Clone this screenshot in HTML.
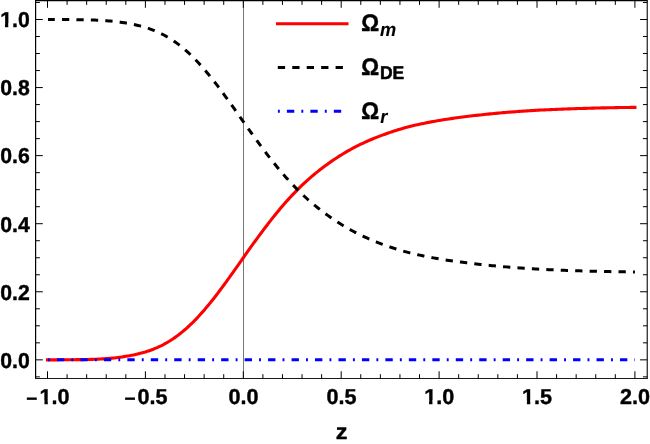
<!DOCTYPE html>
<html><head><meta charset="utf-8"><title>plot</title>
<style>
html,body{margin:0;padding:0;background:#fff;}
body{width:650px;height:444px;overflow:hidden;font-family:"Liberation Sans",sans-serif;}
svg{display:block;will-change:transform;}
text{font-family:"Liberation Sans",sans-serif;font-weight:bold;fill:#000;text-rendering:geometricPrecision;}
</style></head><body>
<svg width="650" height="444" viewBox="0 0 650 444">
<rect x="0" y="0" width="650" height="444" fill="#fff"/>
<line x1="243.5" y1="0.6" x2="243.5" y2="378.5" stroke="#777" stroke-width="1"/>
<g fill="none" stroke-linejoin="round">
<path d="M47.50,359.85 L49.46,359.85 L51.42,359.85 L53.37,359.84 L55.33,359.83 L57.29,359.83 L59.25,359.82 L61.21,359.81 L63.16,359.80 L65.12,359.78 L67.08,359.77 L69.04,359.75 L71.00,359.74 L72.95,359.72 L74.91,359.69 L76.87,359.67 L78.83,359.64 L80.79,359.61 L82.74,359.58 L84.70,359.54 L86.66,359.50 L88.62,359.45 L90.58,359.40 L92.53,359.34 L94.49,359.28 L96.45,359.21 L98.41,359.13 L100.37,359.03 L102.32,358.92 L104.28,358.79 L106.24,358.65 L108.20,358.49 L110.16,358.32 L112.11,358.13 L114.07,357.92 L116.03,357.70 L117.99,357.46 L119.95,357.21 L121.90,356.94 L123.86,356.64 L125.82,356.34 L127.78,356.01 L129.74,355.66 L131.69,355.29 L133.65,354.90 L135.61,354.48 L137.57,354.04 L139.53,353.56 L141.48,353.05 L143.44,352.51 L145.40,351.94 L147.36,351.32 L149.32,350.66 L151.27,349.96 L153.23,349.22 L155.19,348.43 L157.15,347.60 L159.11,346.71 L161.06,345.78 L163.02,344.79 L164.98,343.74 L166.94,342.64 L168.90,341.48 L170.85,340.27 L172.81,338.99 L174.77,337.65 L176.73,336.25 L178.69,334.79 L180.64,333.26 L182.60,331.67 L184.56,330.02 L186.52,328.30 L188.48,326.52 L190.43,324.68 L192.39,322.78 L194.35,320.82 L196.31,318.80 L198.27,316.72 L200.22,314.58 L202.18,312.39 L204.14,310.15 L206.10,307.85 L208.06,305.51 L210.01,303.12 L211.97,300.68 L213.93,298.20 L215.89,295.68 L217.85,293.12 L219.80,290.53 L221.76,287.90 L223.72,285.25 L225.68,282.57 L227.64,279.86 L229.59,277.14 L231.55,274.39 L233.51,271.64 L235.47,268.87 L237.43,266.09 L239.38,263.31 L241.34,260.53 L243.30,257.75 L245.26,254.97 L247.22,252.20 L249.17,249.44 L251.13,246.69 L253.09,243.96 L255.05,241.25 L257.01,238.56 L258.96,235.89 L260.92,233.24 L262.88,230.61 L264.84,228.01 L266.80,225.44 L268.75,222.90 L270.71,220.39 L272.67,217.91 L274.63,215.46 L276.59,213.05 L278.54,210.68 L280.50,208.34 L282.46,206.04 L284.42,203.78 L286.38,201.56 L288.33,199.37 L290.29,197.23 L292.25,195.13 L294.21,193.07 L296.17,191.05 L298.12,189.07 L300.08,187.13 L302.04,185.24 L304.00,183.40 L305.96,181.59 L307.91,179.83 L309.87,178.11 L311.83,176.42 L313.79,174.77 L315.75,173.16 L317.70,171.58 L319.66,170.04 L321.62,168.53 L323.58,167.04 L325.54,165.59 L327.49,164.16 L329.45,162.76 L331.41,161.38 L333.37,160.03 L335.33,158.72 L337.28,157.43 L339.24,156.18 L341.20,154.96 L343.16,153.76 L345.12,152.60 L347.07,151.46 L349.03,150.35 L350.99,149.26 L352.95,148.20 L354.91,147.17 L356.86,146.16 L358.82,145.18 L360.78,144.22 L362.74,143.29 L364.70,142.38 L366.65,141.49 L368.61,140.62 L370.57,139.77 L372.53,138.95 L374.49,138.15 L376.44,137.36 L378.40,136.60 L380.36,135.86 L382.32,135.13 L384.28,134.42 L386.23,133.71 L388.19,133.02 L390.15,132.35 L392.11,131.69 L394.07,131.05 L396.02,130.42 L397.98,129.81 L399.94,129.21 L401.90,128.64 L403.86,128.08 L405.81,127.54 L407.77,127.02 L409.73,126.52 L411.69,126.04 L413.65,125.57 L415.60,125.11 L417.56,124.67 L419.52,124.24 L421.48,123.82 L423.44,123.41 L425.39,123.01 L427.35,122.62 L429.31,122.24 L431.27,121.87 L433.23,121.51 L435.18,121.16 L437.14,120.82 L439.10,120.48 L441.06,120.16 L443.02,119.84 L444.97,119.53 L446.93,119.23 L448.89,118.93 L450.85,118.64 L452.81,118.36 L454.76,118.08 L456.72,117.81 L458.68,117.55 L460.64,117.29 L462.60,117.03 L464.55,116.78 L466.51,116.53 L468.47,116.29 L470.43,116.05 L472.39,115.81 L474.34,115.58 L476.30,115.36 L478.26,115.14 L480.22,114.92 L482.18,114.71 L484.13,114.50 L486.09,114.30 L488.05,114.10 L490.01,113.90 L491.97,113.71 L493.92,113.52 L495.88,113.34 L497.84,113.16 L499.80,112.99 L501.76,112.82 L503.71,112.65 L505.67,112.48 L507.63,112.32 L509.59,112.16 L511.55,112.00 L513.50,111.84 L515.46,111.69 L517.42,111.54 L519.38,111.40 L521.34,111.26 L523.29,111.12 L525.25,110.99 L527.21,110.86 L529.17,110.73 L531.13,110.61 L533.08,110.49 L535.04,110.38 L537.00,110.27 L538.96,110.17 L540.92,110.07 L542.87,109.98 L544.83,109.88 L546.79,109.79 L548.75,109.70 L550.71,109.61 L552.66,109.53 L554.62,109.44 L556.58,109.36 L558.54,109.28 L560.50,109.20 L562.45,109.12 L564.41,109.05 L566.37,108.97 L568.33,108.90 L570.29,108.83 L572.24,108.76 L574.20,108.69 L576.16,108.63 L578.12,108.57 L580.08,108.50 L582.03,108.44 L583.99,108.38 L585.95,108.33 L587.91,108.27 L589.87,108.22 L591.82,108.16 L593.78,108.11 L595.74,108.06 L597.70,108.01 L599.66,107.97 L601.61,107.92 L603.57,107.88 L605.53,107.83 L607.49,107.79 L609.45,107.75 L611.40,107.71 L613.36,107.68 L615.32,107.64 L617.28,107.61 L619.24,107.57 L621.19,107.54 L623.15,107.51 L625.11,107.48 L627.07,107.46 L629.03,107.43 L630.98,107.41 L632.94,107.38 L634.90,107.36" stroke="#ff0000" stroke-width="3.1" stroke-linecap="square"/>
<path d="M48.01,19.50 L49.97,19.50 L51.92,19.51 L53.88,19.51 L55.83,19.52 L57.79,19.52 L59.75,19.53 L61.70,19.54 L63.66,19.56 L65.62,19.57 L67.57,19.58 L69.53,19.60 L71.48,19.62 L73.44,19.64 L75.40,19.66 L77.35,19.69 L79.31,19.71 L81.27,19.75 L83.22,19.78 L85.18,19.82 L87.14,19.86 L89.09,19.91 L91.05,19.96 L93.00,20.02 L94.96,20.09 L96.92,20.16 L98.87,20.25 L100.83,20.35 L102.79,20.46 L104.74,20.59 L106.70,20.74 L108.65,20.90 L110.61,21.08 L112.57,21.27 L114.52,21.48 L116.48,21.70 L118.44,21.94 L120.39,22.20 L122.35,22.48 L124.30,22.77 L126.26,23.09 L128.22,23.42 L130.17,23.77 L132.13,24.15 L134.09,24.54 L136.04,24.97 L138.00,25.42 L139.96,25.90 L141.91,26.41 L143.87,26.96 L145.82,27.55 L147.78,28.17 L149.74,28.83 L151.69,29.54 L153.65,30.29 L155.61,31.09 L157.56,31.94 L159.52,32.83 L161.47,33.78 L163.43,34.78 L165.39,35.83 L167.34,36.94 L169.30,38.11 L171.26,39.34 L173.21,40.63 L175.17,41.98 L177.13,43.39 L179.08,44.86 L181.04,46.40 L182.99,48.00 L184.95,49.67 L186.91,51.40 L188.86,53.19 L190.82,55.04 L192.78,56.95 L194.73,58.92 L196.69,60.95 L198.64,63.04 L200.60,65.19 L202.56,67.38 L204.51,69.64 L206.47,71.94 L208.43,74.29 L210.38,76.69 L212.34,79.13 L214.29,81.62 L216.25,84.14 L218.21,86.71 L220.16,89.30 L222.12,91.93 L224.08,94.59 L226.03,97.27 L227.99,99.98 L229.95,102.70 L231.90,105.45 L233.86,108.20 L235.81,110.97 L237.77,113.75 L239.73,116.53 L241.68,119.31 L243.64,122.09 L245.60,124.86 L247.55,127.63 L249.51,130.38 L251.46,133.12 L253.42,135.85 L255.38,138.55 L257.33,141.24 L259.29,143.91 L261.25,146.55 L263.20,149.17 L265.16,151.76 L267.12,154.32 L269.07,156.86 L271.03,159.36 L272.98,161.83 L274.94,164.27 L276.90,166.68 L278.85,169.04 L280.81,171.37 L282.77,173.66 L284.72,175.92 L286.68,178.13 L288.63,180.31 L290.59,182.44 L292.55,184.54 L294.50,186.59 L296.46,188.60 L298.42,190.58 L300.37,192.50 L302.33,194.38 L304.28,196.22 L306.24,198.02 L308.20,199.77 L310.15,201.49 L312.11,203.17 L314.07,204.81 L316.02,206.41 L317.98,207.98 L319.94,209.52 L321.89,211.03 L323.85,212.51 L325.80,213.96 L327.76,215.38 L329.72,216.78 L331.67,218.15 L333.63,219.49 L335.59,220.80 L337.54,222.08 L339.50,223.33 L341.45,224.55 L343.41,225.74 L345.37,226.90 L347.32,228.04 L349.28,229.14 L351.24,230.22 L353.19,231.28 L355.15,232.31 L357.10,233.31 L359.06,234.29 L361.02,235.24 L362.97,236.17 L364.93,237.08 L366.89,237.97 L368.84,238.83 L370.80,239.67 L372.76,240.49 L374.71,241.29 L376.67,242.07 L378.62,242.83 L380.58,243.57 L382.54,244.30 L384.49,245.01 L386.45,245.71 L388.41,246.40 L390.36,247.07 L392.32,247.73 L394.27,248.37 L396.23,249.00 L398.19,249.61 L400.14,250.20 L402.10,250.77 L404.06,251.33 L406.01,251.87 L407.97,252.38 L409.93,252.88 L411.88,253.36 L413.84,253.83 L415.79,254.28 L417.75,254.72 L419.71,255.15 L421.66,255.57 L423.62,255.98 L425.58,256.38 L427.53,256.77 L429.49,257.14 L431.44,257.51 L433.40,257.87 L435.36,258.22 L437.31,258.56 L439.27,258.89 L441.23,259.22 L443.18,259.53 L445.14,259.84 L447.09,260.15 L449.05,260.44 L451.01,260.73 L452.96,261.01 L454.92,261.29 L456.88,261.56 L458.83,261.82 L460.79,262.08 L462.75,262.34 L464.70,262.59 L466.66,262.84 L468.61,263.08 L470.57,263.32 L472.53,263.55 L474.48,263.78 L476.44,264.01 L478.40,264.23 L480.35,264.44 L482.31,264.66 L484.26,264.86 L486.22,265.07 L488.18,265.27 L490.13,265.46 L492.09,265.65 L494.05,265.84 L496.00,266.02 L497.96,266.20 L499.92,266.37 L501.87,266.54 L503.83,266.71 L505.78,266.88 L507.74,267.04 L509.70,267.20 L511.65,267.36 L513.61,267.51 L515.57,267.67 L517.52,267.81 L519.48,267.96 L521.43,268.10 L523.39,268.24 L525.35,268.37 L527.30,268.50 L529.26,268.63 L531.22,268.75 L533.17,268.86 L535.13,268.97 L537.08,269.08 L539.04,269.18 L541.00,269.28 L542.95,269.38 L544.91,269.47 L546.87,269.56 L548.82,269.65 L550.78,269.74 L552.74,269.83 L554.69,269.91 L556.65,269.99 L558.60,270.07 L560.56,270.15 L562.52,270.23 L564.47,270.31 L566.43,270.38 L568.39,270.45 L570.34,270.52 L572.30,270.59 L574.25,270.66 L576.21,270.72 L578.17,270.79 L580.12,270.85 L582.08,270.91 L584.04,270.97 L585.99,271.03 L587.95,271.08 L589.91,271.14 L591.86,271.19 L593.82,271.24 L595.77,271.29 L597.73,271.34 L599.69,271.38 L601.64,271.43 L603.60,271.47 L605.56,271.52 L607.51,271.56 L609.47,271.60 L611.42,271.64 L613.38,271.67 L615.34,271.71 L617.29,271.74 L619.25,271.78 L621.21,271.81 L623.16,271.84 L625.12,271.87 L627.07,271.89 L629.03,271.92 L630.99,271.94 L632.94,271.97 L634.90,271.99" stroke="#000" stroke-width="3" stroke-dasharray="7.3 7.15" stroke-dashoffset="0.5"/>
<path d="M47.95,359.85 L634.95,359.85" stroke="#0000ff" stroke-width="3" stroke-dasharray="1.9 7.1 7.36 7.1"/>
</g>
<g stroke="#000" fill="none" stroke-linecap="square">
<line x1="35.6" y1="0.6" x2="35.6" y2="378.5" stroke-width="1.2"/>
<line x1="35.6" y1="0.6" x2="647.25" y2="0.6" stroke-width="1.2"/>
<line x1="647.25" y1="0.6" x2="647.25" y2="378.5" stroke-width="1.2" stroke="#1a1a1a"/>
<line x1="35.6" y1="378.5" x2="647.25" y2="378.5" stroke-width="1.05" stroke="#1a1a1a"/>
</g>
<g stroke="#000" stroke-width="1">
<line x1="47.50" y1="378.5" x2="47.50" y2="371.30"/>
<line x1="47.50" y1="0.6" x2="47.50" y2="7.80"/>
<line x1="67.08" y1="378.5" x2="67.08" y2="374.20"/>
<line x1="67.08" y1="0.6" x2="67.08" y2="4.90"/>
<line x1="86.66" y1="378.5" x2="86.66" y2="374.20"/>
<line x1="86.66" y1="0.6" x2="86.66" y2="4.90"/>
<line x1="106.24" y1="378.5" x2="106.24" y2="374.20"/>
<line x1="106.24" y1="0.6" x2="106.24" y2="4.90"/>
<line x1="125.82" y1="378.5" x2="125.82" y2="374.20"/>
<line x1="125.82" y1="0.6" x2="125.82" y2="4.90"/>
<line x1="145.40" y1="378.5" x2="145.40" y2="371.30"/>
<line x1="145.40" y1="0.6" x2="145.40" y2="7.80"/>
<line x1="164.98" y1="378.5" x2="164.98" y2="374.20"/>
<line x1="164.98" y1="0.6" x2="164.98" y2="4.90"/>
<line x1="184.56" y1="378.5" x2="184.56" y2="374.20"/>
<line x1="184.56" y1="0.6" x2="184.56" y2="4.90"/>
<line x1="204.14" y1="378.5" x2="204.14" y2="374.20"/>
<line x1="204.14" y1="0.6" x2="204.14" y2="4.90"/>
<line x1="223.72" y1="378.5" x2="223.72" y2="374.20"/>
<line x1="223.72" y1="0.6" x2="223.72" y2="4.90"/>
<line x1="243.30" y1="378.5" x2="243.30" y2="371.30"/>
<line x1="243.30" y1="0.6" x2="243.30" y2="7.80"/>
<line x1="262.88" y1="378.5" x2="262.88" y2="374.20"/>
<line x1="262.88" y1="0.6" x2="262.88" y2="4.90"/>
<line x1="282.46" y1="378.5" x2="282.46" y2="374.20"/>
<line x1="282.46" y1="0.6" x2="282.46" y2="4.90"/>
<line x1="302.04" y1="378.5" x2="302.04" y2="374.20"/>
<line x1="302.04" y1="0.6" x2="302.04" y2="4.90"/>
<line x1="321.62" y1="378.5" x2="321.62" y2="374.20"/>
<line x1="321.62" y1="0.6" x2="321.62" y2="4.90"/>
<line x1="341.20" y1="378.5" x2="341.20" y2="371.30"/>
<line x1="341.20" y1="0.6" x2="341.20" y2="7.80"/>
<line x1="360.78" y1="378.5" x2="360.78" y2="374.20"/>
<line x1="360.78" y1="0.6" x2="360.78" y2="4.90"/>
<line x1="380.36" y1="378.5" x2="380.36" y2="374.20"/>
<line x1="380.36" y1="0.6" x2="380.36" y2="4.90"/>
<line x1="399.94" y1="378.5" x2="399.94" y2="374.20"/>
<line x1="399.94" y1="0.6" x2="399.94" y2="4.90"/>
<line x1="419.52" y1="378.5" x2="419.52" y2="374.20"/>
<line x1="419.52" y1="0.6" x2="419.52" y2="4.90"/>
<line x1="439.10" y1="378.5" x2="439.10" y2="371.30"/>
<line x1="439.10" y1="0.6" x2="439.10" y2="7.80"/>
<line x1="458.68" y1="378.5" x2="458.68" y2="374.20"/>
<line x1="458.68" y1="0.6" x2="458.68" y2="4.90"/>
<line x1="478.26" y1="378.5" x2="478.26" y2="374.20"/>
<line x1="478.26" y1="0.6" x2="478.26" y2="4.90"/>
<line x1="497.84" y1="378.5" x2="497.84" y2="374.20"/>
<line x1="497.84" y1="0.6" x2="497.84" y2="4.90"/>
<line x1="517.42" y1="378.5" x2="517.42" y2="374.20"/>
<line x1="517.42" y1="0.6" x2="517.42" y2="4.90"/>
<line x1="537.00" y1="378.5" x2="537.00" y2="371.30"/>
<line x1="537.00" y1="0.6" x2="537.00" y2="7.80"/>
<line x1="556.58" y1="378.5" x2="556.58" y2="374.20"/>
<line x1="556.58" y1="0.6" x2="556.58" y2="4.90"/>
<line x1="576.16" y1="378.5" x2="576.16" y2="374.20"/>
<line x1="576.16" y1="0.6" x2="576.16" y2="4.90"/>
<line x1="595.74" y1="378.5" x2="595.74" y2="374.20"/>
<line x1="595.74" y1="0.6" x2="595.74" y2="4.90"/>
<line x1="615.32" y1="378.5" x2="615.32" y2="374.20"/>
<line x1="615.32" y1="0.6" x2="615.32" y2="4.90"/>
<line x1="634.90" y1="378.5" x2="634.90" y2="371.30"/>
<line x1="634.90" y1="0.6" x2="634.90" y2="7.80"/>
<line x1="35.6" y1="376.87" x2="39.90" y2="376.87"/>
<line x1="647.25" y1="376.87" x2="642.95" y2="376.87"/>
<line x1="35.6" y1="359.85" x2="42.80" y2="359.85"/>
<line x1="647.25" y1="359.85" x2="640.05" y2="359.85"/>
<line x1="35.6" y1="342.83" x2="39.90" y2="342.83"/>
<line x1="647.25" y1="342.83" x2="642.95" y2="342.83"/>
<line x1="35.6" y1="325.81" x2="39.90" y2="325.81"/>
<line x1="647.25" y1="325.81" x2="642.95" y2="325.81"/>
<line x1="35.6" y1="308.80" x2="39.90" y2="308.80"/>
<line x1="647.25" y1="308.80" x2="642.95" y2="308.80"/>
<line x1="35.6" y1="291.78" x2="42.80" y2="291.78"/>
<line x1="647.25" y1="291.78" x2="640.05" y2="291.78"/>
<line x1="35.6" y1="274.76" x2="39.90" y2="274.76"/>
<line x1="647.25" y1="274.76" x2="642.95" y2="274.76"/>
<line x1="35.6" y1="257.75" x2="39.90" y2="257.75"/>
<line x1="647.25" y1="257.75" x2="642.95" y2="257.75"/>
<line x1="35.6" y1="240.73" x2="39.90" y2="240.73"/>
<line x1="647.25" y1="240.73" x2="642.95" y2="240.73"/>
<line x1="35.6" y1="223.71" x2="42.80" y2="223.71"/>
<line x1="647.25" y1="223.71" x2="640.05" y2="223.71"/>
<line x1="35.6" y1="206.69" x2="39.90" y2="206.69"/>
<line x1="647.25" y1="206.69" x2="642.95" y2="206.69"/>
<line x1="35.6" y1="189.68" x2="39.90" y2="189.68"/>
<line x1="647.25" y1="189.68" x2="642.95" y2="189.68"/>
<line x1="35.6" y1="172.66" x2="39.90" y2="172.66"/>
<line x1="647.25" y1="172.66" x2="642.95" y2="172.66"/>
<line x1="35.6" y1="155.64" x2="42.80" y2="155.64"/>
<line x1="647.25" y1="155.64" x2="640.05" y2="155.64"/>
<line x1="35.6" y1="138.62" x2="39.90" y2="138.62"/>
<line x1="647.25" y1="138.62" x2="642.95" y2="138.62"/>
<line x1="35.6" y1="121.60" x2="39.90" y2="121.60"/>
<line x1="647.25" y1="121.60" x2="642.95" y2="121.60"/>
<line x1="35.6" y1="104.59" x2="39.90" y2="104.59"/>
<line x1="647.25" y1="104.59" x2="642.95" y2="104.59"/>
<line x1="35.6" y1="87.57" x2="42.80" y2="87.57"/>
<line x1="647.25" y1="87.57" x2="640.05" y2="87.57"/>
<line x1="35.6" y1="70.55" x2="39.90" y2="70.55"/>
<line x1="647.25" y1="70.55" x2="642.95" y2="70.55"/>
<line x1="35.6" y1="53.53" x2="39.90" y2="53.53"/>
<line x1="647.25" y1="53.53" x2="642.95" y2="53.53"/>
<line x1="35.6" y1="36.52" x2="39.90" y2="36.52"/>
<line x1="647.25" y1="36.52" x2="642.95" y2="36.52"/>
<line x1="35.6" y1="19.50" x2="42.80" y2="19.50"/>
<line x1="647.25" y1="19.50" x2="640.05" y2="19.50"/>
<line x1="35.6" y1="2.48" x2="39.90" y2="2.48"/>
<line x1="647.25" y1="2.48" x2="642.95" y2="2.48"/>
</g>
<g font-size="21.6px" stroke="#000" stroke-width="0.4" stroke-linejoin="round">
<text y="404"><tspan x="26.33" dy="1" font-size="19px">−</tspan><tspan x="39.6" dy="-1">1.0</tspan></text>
<text y="404"><tspan x="124.5" dy="1" font-size="19px">−</tspan><tspan x="137.5" dy="-1">0.5</tspan></text>
<text transform="translate(243.60 404) scale(1.0 1.0)" text-anchor="middle">0.0</text>
<text transform="translate(341.43 404) scale(1.0 1.0)" text-anchor="middle">0.5</text>
<text transform="translate(439.25 404) scale(1.0 1.0)" text-anchor="middle">1.0</text>
<text transform="translate(537.07 404) scale(1.0 1.0)" text-anchor="middle">1.5</text>
<text transform="translate(634.90 404) scale(1.0 1.0)" text-anchor="middle">2.0</text>
<text transform="translate(29.7 368.00) scale(0.983 1.0)" text-anchor="end">0.0</text>
<text transform="translate(29.7 300.00) scale(0.983 1.0)" text-anchor="end">0.2</text>
<text transform="translate(29.7 232.00) scale(0.983 1.0)" text-anchor="end">0.4</text>
<text transform="translate(29.7 163.00) scale(0.983 1.0)" text-anchor="end">0.6</text>
<text transform="translate(29.7 95.00) scale(0.983 1.0)" text-anchor="end">0.8</text>
<text transform="translate(29.7 27.00) scale(0.983 1.0)" text-anchor="end">1.0</text>
<text transform="translate(341.5 439) scale(1.04 0.96)" font-size="22.6px" text-anchor="middle">z</text>
</g>
<g fill="#fff" stroke="none">
<rect x="39.10" y="400.40" width="5.34" height="5.20"/>
<rect x="47.81" y="400.40" width="4.29" height="5.20"/>
<rect x="423.74" y="400.40" width="5.34" height="5.20"/>
<rect x="432.44" y="400.40" width="4.29" height="5.20"/>
<rect x="521.56" y="400.40" width="5.34" height="5.20"/>
<rect x="530.27" y="400.40" width="4.29" height="5.20"/>
<rect x="-0.32" y="23.40" width="5.26" height="5.20"/>
<rect x="8.25" y="23.40" width="4.22" height="5.20"/>
</g>
<g fill="none">
<line x1="276" y1="23.8" x2="348.5" y2="23.8" stroke="#ff0000" stroke-width="3.1"/>
<line x1="277.8" y1="67.5" x2="348.5" y2="67.5" stroke="#000" stroke-width="3" stroke-dasharray="7.3 7.15"/>
<line x1="277.9" y1="111.3" x2="345" y2="111.3" stroke="#0000ff" stroke-width="3" stroke-dasharray="1.9 7.1 7.36 7.1"/>
</g>
<g font-size="22.3px" stroke="#000" stroke-width="0.5" stroke-linejoin="round">
<text transform="translate(361.25 31) scale(1 1.067)">Ω</text>
<text transform="translate(361.25 75) scale(1 1.067)">Ω<tspan font-size="17.5px" dy="3.75" dx="0.8">DE</tspan></text>
<text transform="translate(361.25 119) scale(1 1.067)">Ω</text>
</g>
<g font-size="18.2px" font-style="italic" stroke="#000" stroke-width="0.1">
<text transform="translate(380.0 36) scale(1 1.04)">m</text>
<text transform="translate(380.3 123) scale(1 1.04)">r</text>
</g>
</svg>
</body></html>
